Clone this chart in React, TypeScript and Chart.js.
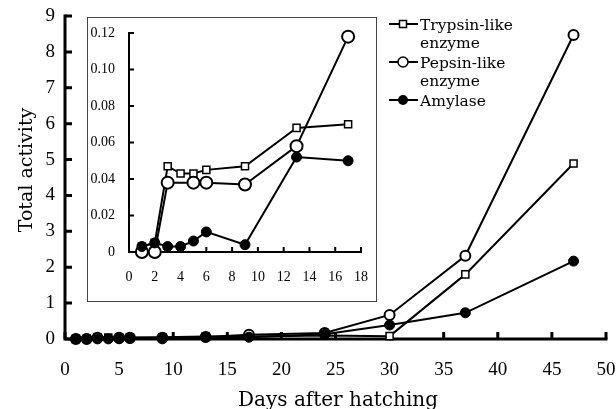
import React, { useEffect, useRef } from "react";
import { Chart, registerables } from "chart.js";

Chart.register(...registerables);

// ---- data ----
const days = [1, 2, 3, 4, 5, 6, 9, 13, 17, 24, 30, 37, 47];
const trypsin = [0.003, 0.005, 0.047, 0.043, 0.043, 0.045, 0.047, 0.068, 0.07, 0.1, 0.08, 1.8, 4.89];
const pepsinDays = [1, 2, 3, 5, 6, 9, 13, 17, 24, 30, 37, 47];
const pepsin = [0, 0, 0.038, 0.038, 0.038, 0.037, 0.058, 0.118, 0.17, 0.67, 2.32, 8.47];
const amylase = [0.003, 0.005, 0.003, 0.003, 0.006, 0.011, 0.004, 0.052, 0.05, 0.13, 0.39, 0.73, 2.17];
const insetMaxDay = 17;

const seriesNames = ["Trypsin-like", "enzyme", "Pepsin-like", "enzyme", "Amylase"];
const xTitle = "Days after hatching";
const yTitle = "Total activity";

const toPts = (xs: number[], ys: number[], maxX = Infinity) =>
  xs.map((x, i) => ({ x, y: ys[i] })).filter((p) => p.x <= maxX);

function axesPlugin(lw: number, tl: number) {
  return {
    id: "axesInward",
    beforeDatasetsDraw(chart: any) {
      const { ctx, chartArea, scales } = chart;
      const { left, right, top, bottom } = chartArea;
      const x = scales.x;
      const y = scales.y;
      ctx.save();
      ctx.strokeStyle = "#000";
      ctx.lineWidth = lw;
      ctx.lineCap = "square";
      ctx.beginPath();
      ctx.moveTo(left, top);
      ctx.lineTo(left, bottom);
      ctx.lineTo(right, bottom);
      ctx.stroke();
      ctx.lineCap = "butt";
      ctx.beginPath();
      x.ticks.forEach((t: any) => {
        const px = x.getPixelForValue(t.value);
        ctx.moveTo(px, bottom);
        ctx.lineTo(px, bottom - tl);
      });
      y.ticks.forEach((t: any) => {
        const py = y.getPixelForValue(t.value);
        ctx.moveTo(left, py);
        ctx.lineTo(left + tl, py);
      });
      ctx.stroke();
      ctx.restore();
    },
  };
}

const decorPlugin = {
  id: "decor",
  afterDraw(chart: any) {
    const { ctx } = chart;
    ctx.save();
    ctx.fillStyle = "#000";
    // axis titles
    ctx.font = "20px 'DejaVu Serif'";
    ctx.textAlign = "center";
    ctx.textBaseline = "alphabetic";
    ctx.fillText(xTitle, 338, 406);
    ctx.save();
    ctx.translate(32, 170);
    ctx.rotate(-Math.PI / 2);
    ctx.font = "19px 'DejaVu Serif'";
    ctx.fillText(yTitle, 0, 0);
    ctx.restore();

    // legend
    const lx0 = 389;
    const lx1 = 418;
    const mx = 403;
    const rows = [24, 62, 100];
    ctx.strokeStyle = "#000";
    ctx.lineWidth = 2;
    rows.forEach((ry) => {
      ctx.beginPath();
      ctx.moveTo(lx0, ry);
      ctx.lineTo(lx1, ry);
      ctx.stroke();
    });
    ctx.lineWidth = 1.5;
    ctx.fillStyle = "#fff";
    ctx.fillRect(mx - 3.5, rows[0] - 3.5, 7, 7);
    ctx.strokeRect(mx - 3.5, rows[0] - 3.5, 7, 7);
    ctx.beginPath();
    ctx.arc(mx, rows[1], 5, 0, Math.PI * 2);
    ctx.fill();
    ctx.stroke();
    ctx.fillStyle = "#000";
    ctx.beginPath();
    ctx.arc(mx, rows[2], 5, 0, Math.PI * 2);
    ctx.fill();

    ctx.font = "15.5px 'DejaVu Serif'";
    ctx.textAlign = "left";
    const baselines = [30, 48, 68, 86, 106];
    seriesNames.forEach((s, i) => ctx.fillText(s, 420, baselines[i]));
    ctx.restore();
  },
};

function makeDatasets(maxX: number, circleR: number, sqR: number, dotR: number) {
  return [
    {
      label: "Amylase",
      data: toPts(days, amylase, maxX),
      borderColor: "#000",
      borderWidth: 2,
      pointStyle: "circle",
      pointRadius: dotR,
      pointBackgroundColor: "#000",
      pointBorderColor: "#000",
      pointBorderWidth: 1,
      clip: false,
    },
    {
      label: "Pepsin-like enzyme",
      data: toPts(pepsinDays, pepsin, maxX),
      borderColor: "#000",
      borderWidth: 2,
      pointStyle: "circle",
      pointRadius: circleR,
      pointBackgroundColor: "#fff",
      pointBorderColor: "#000",
      pointBorderWidth: 2,
      clip: false,
    },
    {
      label: "Trypsin-like enzyme",
      data: toPts(days, trypsin, maxX),
      borderColor: "#000",
      borderWidth: 2,
      pointStyle: "rect",
      pointRadius: sqR,
      pointBackgroundColor: "#fff",
      pointBorderColor: "#000",
      pointBorderWidth: 1.5,
      clip: false,
    },
  ];
}

const fitX = (h: number) => (s: any) => {
  s.height = h;
  s.paddingLeft = 0;
  s.paddingRight = 0;
};
const fitY = (w: number) => (s: any) => {
  s.width = w;
  s.paddingTop = 0;
  s.paddingBottom = 0;
};

export default function App() {
  const mainRef = useRef<HTMLCanvasElement>(null);
  const insetRef = useRef<HTMLCanvasElement>(null);

  useEffect(() => {
    const main = new Chart(mainRef.current as HTMLCanvasElement, {
      type: "line",
      data: { datasets: makeDatasets(Infinity, 5, 5, 5) as any },
      options: {
        animation: false,
        responsive: false,
        events: [],
        layout: { padding: { left: 0, top: 16, right: 10, bottom: 0 }, autoPadding: false },
        plugins: { legend: { display: false }, tooltip: { enabled: false } },
        elements: { line: { tension: 0 } },
        scales: {
          x: {
            type: "linear",
            min: 0,
            max: 50,
            grid: { display: false, drawTicks: false },
            border: { display: false },
            ticks: {
              stepSize: 5,
              padding: 20,
              color: "#000",
              maxRotation: 0,
              font: { family: "Liberation Serif", size: 19 },
            },
            afterFit: fitX(70),
          },
          y: {
            type: "linear",
            min: 0,
            max: 9,
            grid: { display: false, drawTicks: false },
            border: { display: false },
            ticks: {
              stepSize: 1,
              padding: 10,
              color: "#000",
              font: { family: "Liberation Serif", size: 19 },
            },
            afterFit: fitY(65),
          },
        },
      },
      plugins: [axesPlugin(3, 7), decorPlugin],
    });

    const inset = new Chart(insetRef.current as HTMLCanvasElement, {
      type: "line",
      data: { datasets: makeDatasets(insetMaxDay, 6, 5, 5) as any },
      options: {
        animation: false,
        responsive: false,
        events: [],
        layout: { padding: { left: 0, top: 15, right: 15, bottom: 0 }, autoPadding: false },
        plugins: { legend: { display: false }, tooltip: { enabled: false } },
        elements: { line: { tension: 0 } },
        scales: {
          x: {
            type: "linear",
            min: 0,
            max: 18,
            grid: { display: false, drawTicks: false },
            border: { display: false },
            ticks: {
              stepSize: 2,
              padding: 17,
              color: "#000",
              maxRotation: 0,
              font: { family: "Liberation Serif", size: 14 },
            },
            afterFit: fitX(49),
          },
          y: {
            type: "linear",
            min: 0,
            max: 0.12,
            grid: { display: false, drawTicks: false },
            border: { display: false },
            ticks: {
              stepSize: 0.02,
              padding: 14,
              color: "#000",
              font: { family: "Liberation Serif", size: 14 },
            },
            afterFit: fitY(41),
          },
        },
      },
      plugins: [axesPlugin(2, 5)],
    });

    return () => {
      main.destroy();
      inset.destroy();
    };
  }, []);

  return (
    <div style={{ position: "fixed", left: 0, top: 0, width: 616, height: 409, background: "#fff" }}>
      <canvas
        ref={mainRef}
        width={616}
        height={409}
        style={{ position: "absolute", left: 0, top: 0, width: 616, height: 409 }}
      />
      <div
        style={{
          position: "absolute",
          left: 87,
          top: 17,
          width: 290,
          height: 285,
          border: "1px solid #444",
          boxSizing: "border-box",
          background: "#fff",
        }}
      >
        <canvas ref={insetRef} width={288} height={283} style={{ display: "block", width: 288, height: 283 }} />
      </div>
    </div>
  );
}
